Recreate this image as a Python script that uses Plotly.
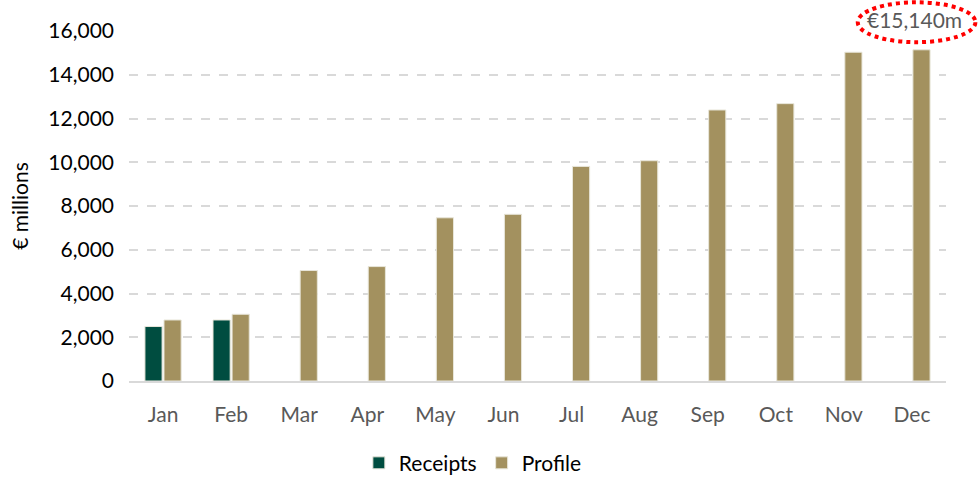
import plotly.graph_objects as go

months = ["Jan", "Feb", "Mar", "Apr", "May", "Jun", "Jul", "Aug", "Sep", "Oct", "Nov", "Dec"]
receipts = [2490, 2790, None, None, None, None, None, None, None, None, None, None]
profile = [2790, 3050, 5050, 5230, 7460, 7620, 9810, 10070, 12390, 12680, 15030, 15140]
yticks = [0, 2000, 4000, 6000, 8000, 10000, 12000, 14000, 16000]
annotation_text = "€15,140m"

FONT = "Lato"
fig = go.Figure()
fig.add_trace(go.Bar(x=months, y=receipts, name="Receipts",
                     marker=dict(color="#004D40", line=dict(color="#E8E6DA", width=1))))
fig.add_trace(go.Bar(x=months, y=profile, name="Profile",
                     marker=dict(color="#A3915F", line=dict(color="#E8E6DA", width=1))))

fig.update_layout(
    width=979, height=478,
    margin=dict(l=129, r=33, t=31, b=97, autoexpand=False),
    plot_bgcolor="white", paper_bgcolor="white",
    barmode="group", bargap=0.44, bargroupgap=0.1,
    font=dict(family=FONT, size=21, color="#000000"),
    showlegend=True,
    legend=dict(orientation="h", xref="container", yref="container",
                x=0.483, xanchor="center", y=0.031, yanchor="middle",
                font=dict(size=21, color="#000000"), itemwidth=30),
    xaxis=dict(showgrid=False, showline=True, linecolor="#D9D9D9", linewidth=2,
               tickfont=dict(size=21, color="#595959"), ticks="", ticklabelstandoff=14),
    yaxis=dict(range=[0, 16000], tickvals=yticks, tickformat=",d",
               showgrid=True, gridcolor="#D9D9D9", griddash="dash", gridwidth=1.5,
               zeroline=False, showline=False, ticks="",
               tickfont=dict(size=21, color="#000000"), ticklabelstandoff=14,
               title=dict(text="€ millions", font=dict(size=21, color="#000000"), standoff=13)),
)

fig.add_shape(type="circle", xref="paper", yref="paper",
              x0=0.892, x1=1.036, y0=0.968, y1=1.082,
              line=dict(color="#FF0000", width=4, dash="dot"))
fig.add_annotation(text=annotation_text, xref="paper", yref="paper", x=0.962, y=1.034,
                   xanchor="center", yanchor="middle",
                   showarrow=False, font=dict(size=21, color="#595959"))

fig.write_html("out.html", config={"displayModeBar": False},
               post_script="document.body.style.margin='0';")
